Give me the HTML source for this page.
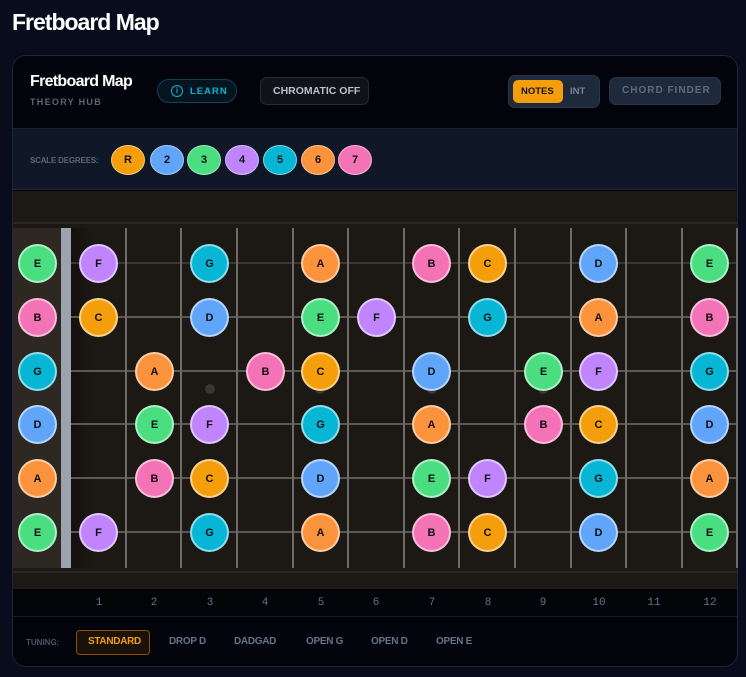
<!DOCTYPE html>
<html><head><meta charset="utf-8"><style>
*{margin:0;padding:0;box-sizing:border-box}
body{width:746px;height:677px;background:#080c1c;font-family:"Liberation Sans",sans-serif;position:relative;overflow:hidden}
.a{position:absolute}
.t{font-weight:bold;white-space:nowrap}
.n{position:absolute;width:39px;height:39px;border-radius:50%;border:2px solid rgba(255,255,255,.55);font:bold 11px "Liberation Sans",sans-serif;color:#111;display:flex;align-items:center;justify-content:center}
.R{background:#f59e0b}.D2{background:#60a5fa}.D3{background:#4ade80}.D4{background:#c084fc}.D5{background:#06b6d4}.D6{background:#fb923c}.D7{background:#f472b6}
.f{position:absolute;top:228px;height:340px;width:2px;background:#6e6b68}
.s{position:absolute;left:71px;width:667px;height:2px;background:#5c5854}
.fn{position:absolute;top:597px;font:11px "Liberation Mono",monospace;color:#64748b;width:20px;text-align:center}
.tu{position:absolute;top:636px;font:bold 10px "Liberation Sans",sans-serif;color:#64748b;letter-spacing:-.3px}
.sd{position:absolute;top:145px;width:34px;height:30px;border-radius:50%;border:1.5px solid rgba(255,255,255,.45);font:bold 11px "Liberation Sans",sans-serif;color:#111;display:flex;align-items:center;justify-content:center}
</style></head><body>
<div class="a t" style="left:12px;top:9px;font-size:23px;color:#fff;letter-spacing:-1px">Fretboard Map</div>
<div class="a" style="left:12px;top:55px;width:726px;height:612px;border:1px solid #1e2535;border-radius:14px;background:#03040b;overflow:hidden">
</div>
<div class="a" style="left:13px;top:56px;width:724px;height:610px;border-radius:13px;overflow:hidden">
 <div class="a" style="left:0;top:0;width:724px;height:72px;background:#03040b"></div>
 <div class="a" style="left:0;top:72px;width:724px;height:62px;background:#101828;border-top:1px solid #1a2235;border-bottom:1px solid #1e2536"></div>
 <div class="a" style="left:0;top:135px;width:724px;height:398px;background:#1c1814"></div>
 <div class="a" style="left:0;top:166px;width:724px;height:2px;background:#2a2623"></div>
 <div class="a" style="left:0;top:515px;width:724px;height:2px;background:#2a2623"></div>
 <div class="a" style="left:0;top:533px;width:724px;height:28px;background:#030408;border-bottom:1px solid #141a28"></div>
 <div class="a t" style="left:17px;top:17px;font-size:16px;color:#fff;letter-spacing:-.7px">Fretboard Map</div>
 <div class="a t" style="left:17px;top:41px;font-size:9px;color:#5b6478;letter-spacing:1.3px">THEORY HUB</div>
 <div class="a" style="left:144px;top:23px;width:80px;height:24px;border:1px solid #0e4454;border-radius:12px;background:#041520"></div>
 <div class="a" style="left:158px;top:29px;width:12px;height:12px;border:1.5px solid #06b6d4;border-radius:50%;color:#06b6d4;font:bold 8px 'Liberation Sans';text-align:center;line-height:9px">i</div>
 <div class="a t" style="left:177px;top:30px;font-size:9.5px;color:#06b6d4;letter-spacing:1px">LEARN</div>
 <div class="a" style="left:247px;top:21px;width:109px;height:28px;border:1px solid #262a33;border-radius:7px;background:#101217"></div>
 <div class="a t" style="left:260px;top:29px;font-size:10.5px;color:#b8c1d0">CHROMATIC OFF</div>
 <div class="a" style="left:495px;top:19px;width:92px;height:33px;border-radius:7px;background:#1e293b;border:1px solid #2a3547"></div>
 <div class="a" style="left:500px;top:24px;width:50px;height:23px;border-radius:5px;background:#f59e0b"></div>
 <div class="a t" style="left:508px;top:30px;font-size:9.5px;color:#111">NOTES</div>
 <div class="a t" style="left:557px;top:30px;font-size:9.5px;color:#7b8596">INT</div>
 <div class="a" style="left:596px;top:21px;width:112px;height:28px;border-radius:7px;background:#1e293b;border:1px solid #2a3547"></div>
 <div class="a t" style="left:609px;top:29px;font-size:10px;color:#5f6b7e;letter-spacing:1px">CHORD FINDER</div>
 <div class="a t" style="left:17px;top:100px;font-size:8px;color:#5b6478;letter-spacing:-.2px">SCALE DEGREES:</div>
 <div class="sd R" style="left:98px;top:89px">R</div><div class="sd D2" style="left:137px;top:89px">2</div><div class="sd D3" style="left:174px;top:89px">3</div><div class="sd D4" style="left:212px;top:89px">4</div><div class="sd D5" style="left:250px;top:89px">5</div><div class="sd D6" style="left:288px;top:89px">6</div><div class="sd D7" style="left:325px;top:89px">7</div>
</div>
<div class="a" style="left:13px;top:228px;width:48px;height:340px;background:#2e2823"></div>
<div class="a" style="left:61px;top:228px;width:10px;height:340px;background:#9ca3af"></div>
<div class="a" style="left:71px;top:228px;width:20px;height:340px;background:linear-gradient(90deg,rgba(0,0,0,.35),rgba(0,0,0,0))"></div>
<div class="s" style="top:262px;background:#3a3633"></div><div class="s" style="top:316px"></div><div class="s" style="top:370px"></div><div class="s" style="top:423px"></div><div class="s" style="top:477px"></div><div class="s" style="top:531px"></div>
<div class="f" style="left:125px"></div><div class="f" style="left:180px"></div><div class="f" style="left:236px"></div><div class="f" style="left:292px"></div><div class="f" style="left:347px"></div><div class="f" style="left:403px"></div><div class="f" style="left:458px"></div><div class="f" style="left:514px"></div><div class="f" style="left:570px"></div><div class="f" style="left:625px"></div><div class="f" style="left:681px"></div><div class="f" style="left:736px"></div>
<div class="a" style="left:205px;top:384px;width:10px;height:10px;border-radius:50%;background:#3a3532"></div>
<div class="a" style="left:315px;top:384px;width:10px;height:10px;border-radius:50%;background:#3a3532"></div>
<div class="a" style="left:427px;top:384px;width:10px;height:10px;border-radius:50%;background:#3a3532"></div>
<div class="a" style="left:538px;top:384px;width:10px;height:10px;border-radius:50%;background:#3a3532"></div>
<div class="n D3" style="left:18px;top:244px">E</div><div class="n D4" style="left:79px;top:244px">F</div><div class="n D5" style="left:190px;top:244px">G</div><div class="n D6" style="left:301px;top:244px">A</div><div class="n D7" style="left:412px;top:244px">B</div><div class="n R" style="left:468px;top:244px">C</div><div class="n D2" style="left:579px;top:244px">D</div><div class="n D3" style="left:690px;top:244px">E</div>
<div class="n D7" style="left:18px;top:298px">B</div><div class="n R" style="left:79px;top:298px">C</div><div class="n D2" style="left:190px;top:298px">D</div><div class="n D3" style="left:301px;top:298px">E</div><div class="n D4" style="left:357px;top:298px">F</div><div class="n D5" style="left:468px;top:298px">G</div><div class="n D6" style="left:579px;top:298px">A</div><div class="n D7" style="left:690px;top:298px">B</div>
<div class="n D5" style="left:18px;top:352px">G</div><div class="n D6" style="left:135px;top:352px">A</div><div class="n D7" style="left:246px;top:352px">B</div><div class="n R" style="left:301px;top:352px">C</div><div class="n D2" style="left:412px;top:352px">D</div><div class="n D3" style="left:524px;top:352px">E</div><div class="n D4" style="left:579px;top:352px">F</div><div class="n D5" style="left:690px;top:352px">G</div>
<div class="n D2" style="left:18px;top:405px">D</div><div class="n D3" style="left:135px;top:405px">E</div><div class="n D4" style="left:190px;top:405px">F</div><div class="n D5" style="left:301px;top:405px">G</div><div class="n D6" style="left:412px;top:405px">A</div><div class="n D7" style="left:524px;top:405px">B</div><div class="n R" style="left:579px;top:405px">C</div><div class="n D2" style="left:690px;top:405px">D</div>
<div class="n D6" style="left:18px;top:459px">A</div><div class="n D7" style="left:135px;top:459px">B</div><div class="n R" style="left:190px;top:459px">C</div><div class="n D2" style="left:301px;top:459px">D</div><div class="n D3" style="left:412px;top:459px">E</div><div class="n D4" style="left:468px;top:459px">F</div><div class="n D5" style="left:579px;top:459px">G</div><div class="n D6" style="left:690px;top:459px">A</div>
<div class="n D3" style="left:18px;top:513px">E</div><div class="n D4" style="left:79px;top:513px">F</div><div class="n D5" style="left:190px;top:513px">G</div><div class="n D6" style="left:301px;top:513px">A</div><div class="n D7" style="left:412px;top:513px">B</div><div class="n R" style="left:468px;top:513px">C</div><div class="n D2" style="left:579px;top:513px">D</div><div class="n D3" style="left:690px;top:513px">E</div>
<div class="fn" style="left:89px">1</div><div class="fn" style="left:144px">2</div><div class="fn" style="left:200px">3</div><div class="fn" style="left:255px">4</div><div class="fn" style="left:311px">5</div><div class="fn" style="left:366px">6</div><div class="fn" style="left:422px">7</div><div class="fn" style="left:478px">8</div><div class="fn" style="left:533px">9</div><div class="fn" style="left:589px">10</div><div class="fn" style="left:644px">11</div><div class="fn" style="left:700px">12</div>
<div class="a t" style="left:26px;top:638px;font-size:8px;color:#4b5567">TUNING:</div>
<div class="a" style="left:76px;top:630px;width:74px;height:25px;border:1px solid #8a4f0c;border-radius:4px;background:#1a1208"></div>
<div class="tu" style="left:88px;color:#f59e0b">STANDARD</div>
<div class="tu" style="left:169px">DROP D</div><div class="tu" style="left:234px">DADGAD</div><div class="tu" style="left:306px">OPEN G</div><div class="tu" style="left:371px">OPEN D</div><div class="tu" style="left:436px">OPEN E</div>
</body></html>
